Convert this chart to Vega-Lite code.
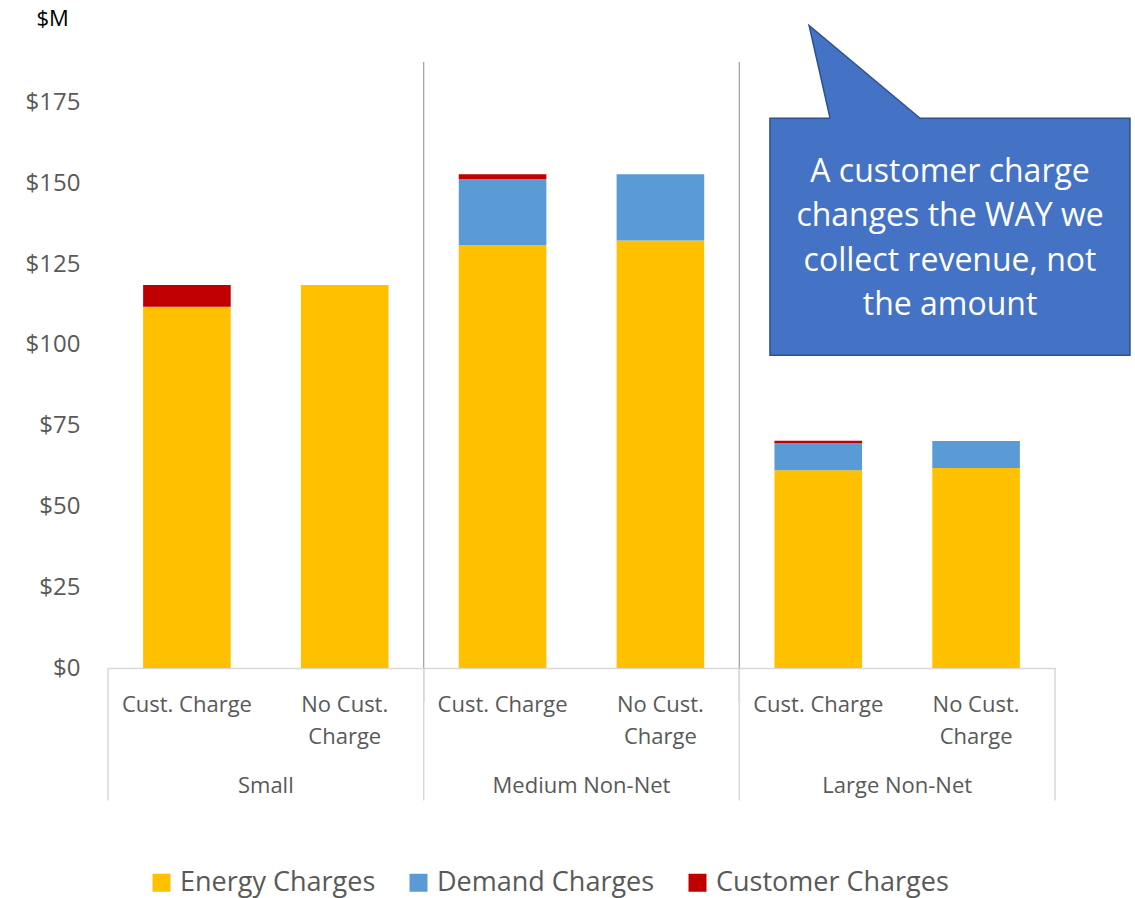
{
  "$schema": "https://vega.github.io/schema/vega-lite/v6.json",
  "width": 947,
  "height": 606,
  "autosize": {"type": "none"},
  "padding": {"left": 108, "top": 62, "right": 80, "bottom": 230},
  "background": "white",
  "config": {
    "view": {"stroke": null},
    "font": "Open Sans",
    "text": {"font": "Open Sans"}
  },
  "datasets": {
    "bars": [
      {"group": "Small", "bar": "Cust. Charge", "slot": "Small · Cust. Charge", "charge": "Energy Charges", "value": 111.8},
      {"group": "Small", "bar": "Cust. Charge", "slot": "Small · Cust. Charge", "charge": "Customer Charges", "value": 6.7},
      {"group": "Small", "bar": "No Cust. Charge", "slot": "Small · No Cust. Charge", "charge": "Energy Charges", "value": 118.5},
      {"group": "Medium Non-Net", "bar": "Cust. Charge", "slot": "Medium Non-Net · Cust. Charge", "charge": "Energy Charges", "value": 130.8},
      {"group": "Medium Non-Net", "bar": "Cust. Charge", "slot": "Medium Non-Net · Cust. Charge", "charge": "Demand Charges", "value": 20.4},
      {"group": "Medium Non-Net", "bar": "Cust. Charge", "slot": "Medium Non-Net · Cust. Charge", "charge": "Customer Charges", "value": 1.6},
      {"group": "Medium Non-Net", "bar": "No Cust. Charge", "slot": "Medium Non-Net · No Cust. Charge", "charge": "Energy Charges", "value": 132.3},
      {"group": "Medium Non-Net", "bar": "No Cust. Charge", "slot": "Medium Non-Net · No Cust. Charge", "charge": "Demand Charges", "value": 20.5},
      {"group": "Large Non-Net", "bar": "Cust. Charge", "slot": "Large Non-Net · Cust. Charge", "charge": "Energy Charges", "value": 61.2},
      {"group": "Large Non-Net", "bar": "Cust. Charge", "slot": "Large Non-Net · Cust. Charge", "charge": "Demand Charges", "value": 8.35},
      {"group": "Large Non-Net", "bar": "Cust. Charge", "slot": "Large Non-Net · Cust. Charge", "charge": "Customer Charges", "value": 0.75},
      {"group": "Large Non-Net", "bar": "No Cust. Charge", "slot": "Large Non-Net · No Cust. Charge", "charge": "Energy Charges", "value": 61.9},
      {"group": "Large Non-Net", "bar": "No Cust. Charge", "slot": "Large Non-Net · No Cust. Charge", "charge": "Demand Charges", "value": 8.3}
    ],
    "box": [{"x1": 4.194, "x2": 6.475, "y1": 96.8, "y2": 170.1}],
    "pointer": [
      {"px": 4.442, "top": 198.8, "bottom": 198.8},
      {"px": 4.575, "top": 193.4, "bottom": 169.7},
      {"px": 5.145, "top": 170.1, "bottom": 169.7}
    ],
    "pointerEdge": [
      {"k": 1, "px": 4.575, "py": 170.1},
      {"k": 2, "px": 4.442, "py": 198.8},
      {"k": 3, "px": 5.145, "py": 170.1}
    ],
    "note": [{"px": 5.335, "py": 153.5, "label": "A customer charge\nchanges the WAY we\ncollect revenue, not\nthe amount"}]
  },
  "layer": [
    {
      "data": {"name": "bars"},
      "layer": [
        {
          "mark": {"type": "bar", "width": {"band": 0.555}},
          "encoding": {
            "x": {
              "field": "slot", "type": "nominal",
              "scale": {
                "type": "band", "paddingInner": 0, "paddingOuter": 0,
                "domain": ["Small · Cust. Charge", "Small · No Cust. Charge", "Medium Non-Net · Cust. Charge", "Medium Non-Net · No Cust. Charge", "Large Non-Net · Cust. Charge", "Large Non-Net · No Cust. Charge"]
              },
              "axis": {
                "title": null,
                "labelAngle": 0,
                "labelExpr": "indexof(datum.value, 'No Cust') >= 0 ? ['No Cust.', 'Charge'] : 'Cust. Charge'",
                "labelFontSize": 22,
                "labelColor": "#595959",
                "labelPadding": 26,
                "labelBaseline": "top",
                "labelLineHeight": 32,
                "ticks": false,
                "domainColor": "#d9d9d9",
                "domainWidth": 1.5,
                "grid": false
              }
            },
            "y": {
              "field": "value", "type": "quantitative", "stack": "zero",
              "scale": {"domain": [0, 187.5], "nice": false, "zero": true},
              "axis": {
                "title": "$M",
                "titleAngle": 0,
                "titleAlign": "left",
                "titleBaseline": "middle",
                "titleX": -72,
                "titleY": -44,
                "titleFontSize": 22,
                "titleFontWeight": "normal",
                "titleColor": "#000000",
                "values": [0, 25, 50, 75, 100, 125, 150, 175],
                "labelExpr": "'$' + datum.value",
                "labelFontSize": 24,
                "labelColor": "#595959",
                "labelPadding": 28,
                "ticks": false,
                "domain": false,
                "grid": false
              }
            },
            "color": {
              "field": "charge", "type": "nominal",
              "sort": ["Energy Charges", "Demand Charges", "Customer Charges"],
              "scale": {
                "domain": ["Energy Charges", "Demand Charges", "Customer Charges"],
                "range": ["#FFC000", "#5B9BD5", "#C00000"]
              },
              "legend": {
                "title": null,
                "orient": "none",
                "direction": "horizontal",
                "legendX": 40,
                "legendY": 807,
                "symbolType": "square",
                "symbolSize": 324,
                "symbolStrokeWidth": 0,
                "symbolOpacity": 1,
                "labelFontSize": 27,
                "labelLimit": 0,
                "labelColor": "#595959",
                "labelOffset": 5,
                "columnPadding": 29,
                "padding": 0
              }
            }
          }
        },
        {
          "transform": [{"filter": "datum.bar == 'No Cust. Charge' && datum.charge == 'Energy Charges' && datum.group != 'Large Non-Net'"}],
          "mark": {"type": "rule", "color": "#a6a6a6", "strokeWidth": 1.3},
          "encoding": {
            "x": {"field": "slot", "type": "nominal", "bandPosition": 1},
            "y": {"datum": 187.5},
            "y2": {"datum": -10.5}
          }
        },
        {
          "transform": [{"filter": "datum.bar == 'No Cust. Charge' && datum.charge == 'Energy Charges'"}],
          "mark": {"type": "rule", "color": "#d9d9d9", "strokeWidth": 1.5},
          "encoding": {
            "x": {"field": "slot", "type": "nominal", "bandPosition": 1},
            "y": {"datum": 0},
            "y2": {"datum": -41}
          }
        },
        {
          "transform": [{"filter": "datum.slot == 'Small · Cust. Charge' && datum.charge == 'Energy Charges'"}],
          "mark": {"type": "rule", "color": "#d9d9d9", "strokeWidth": 1.5},
          "encoding": {
            "x": {"field": "slot", "type": "nominal", "bandPosition": 0},
            "y": {"datum": 0},
            "y2": {"datum": -41}
          }
        },
        {
          "transform": [{"filter": "datum.bar == 'Cust. Charge' && datum.charge == 'Energy Charges'"}],
          "mark": {"type": "text", "fontSize": 22, "color": "#595959", "align": "center", "baseline": "middle"},
          "encoding": {
            "x": {"field": "slot", "type": "nominal", "bandPosition": 1},
            "y": {"datum": -36.5},
            "text": {"field": "group"}
          }
        }
      ]
    },
    {
      "layer": [
        {
          "data": {"name": "box"},
          "mark": {"type": "rect", "fill": "#4472C4", "stroke": "#2F528F", "strokeWidth": 1.5},
          "encoding": {
            "x": {"field": "x1", "type": "quantitative", "scale": {"domain": [0, 6], "nice": false, "zero": false}, "axis": null},
            "x2": {"field": "x2"},
            "y": {"field": "y1", "type": "quantitative", "scale": {"domain": [0, 187.5], "nice": false, "zero": false}, "axis": null},
            "y2": {"field": "y2"}
          }
        },
        {
          "data": {"name": "pointer"},
          "mark": {"type": "area", "fill": "#4472C4", "opacity": 1, "orient": "vertical"},
          "encoding": {
            "x": {"field": "px", "type": "quantitative"},
            "y": {"field": "top", "type": "quantitative"},
            "y2": {"field": "bottom"}
          }
        },
        {
          "data": {"name": "pointerEdge"},
          "mark": {"type": "line", "color": "#2F528F", "strokeWidth": 1.5},
          "encoding": {
            "x": {"field": "px", "type": "quantitative"},
            "y": {"field": "py", "type": "quantitative"},
            "order": {"field": "k"}
          }
        },
        {
          "data": {"name": "note"},
          "mark": {"type": "text", "color": "white", "fontSize": 32, "lineBreak": "\n", "lineHeight": 44.5, "align": "center", "baseline": "middle"},
          "encoding": {
            "x": {"field": "px", "type": "quantitative"},
            "y": {"field": "py", "type": "quantitative"},
            "text": {"field": "label"}
          }
        }
      ]
    }
  ],
  "resolve": {"scale": {"x": "independent", "y": "independent"}}
}
